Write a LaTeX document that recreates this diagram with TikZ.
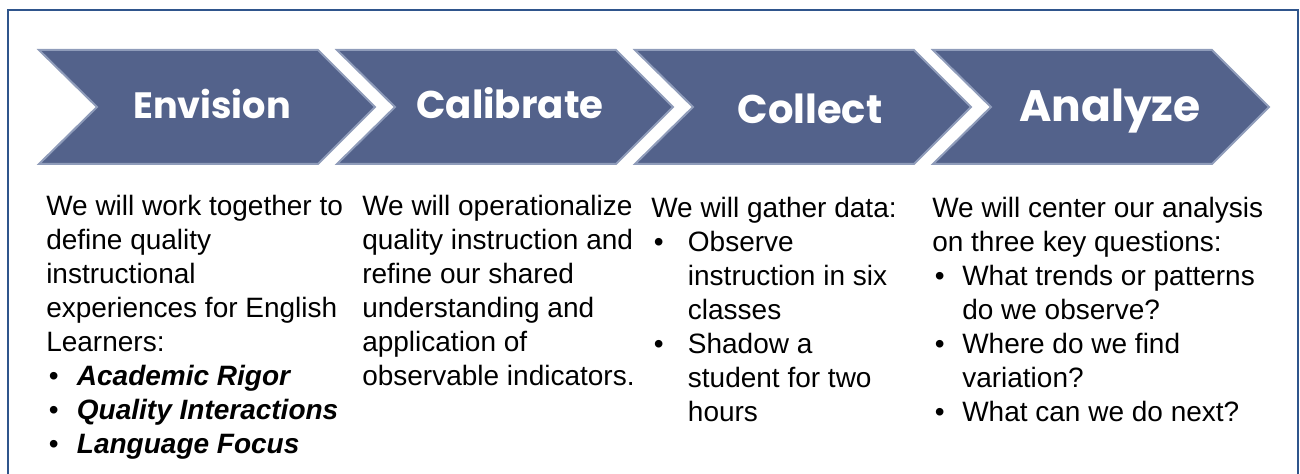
\documentclass[tikz,border=0pt]{standalone}
\usepackage{fontspec}
\setmainfont{Liberation Sans}
\newfontfamily\headfont{Poppins}
\definecolor{chevfill}{RGB}{83,98,139}
\definecolor{chevedge}{RGB}{143,156,186}
\definecolor{frameblue}{RGB}{47,85,140}
% bullet in a box of given width, and the matching indent
\newcommand{\bul}[1]{\makebox[#1][l]{\hspace{2pt}\textbullet}}
\newcommand{\ind}[1]{\hspace*{#1}}
\tikzset{
  chevron/.style={fill=chevfill,draw=chevedge,line width=1.5pt,line join=miter},
  head/.style={anchor=base,inner sep=0pt,text=white,font=\headfont\bfseries\fontsize{#1}{#1}\selectfont},
  % anchored at the baseline of the last line
  body/.style={anchor=base west,inner sep=0pt,align=left,font=\fontsize{21}{25.5}\selectfont},
}
\begin{document}
\begin{tikzpicture}[x=0.75pt,y=-0.75pt]
  \useasboundingbox (0,0) rectangle (1300,474);
  \clip (0,0) rectangle (1300,474);
  \draw[frameblue,line width=1.5pt] (8,10) rectangle (1298,490);
  % chevrons
  \draw[chevron] (39,50) -- (318,50) -- (375,107) -- (318,164) -- (39,164) -- (97,107) -- cycle;
  \draw[chevron] (337,50) -- (616,50) -- (673,107) -- (616,164) -- (337,164) -- (395,107) -- cycle;
  \draw[chevron] (635,50) -- (914,50) -- (971,107) -- (914,164) -- (635,164) -- (693,107) -- cycle;
  \draw[chevron] (933,50) -- (1212,50) -- (1269,107) -- (1212,164) -- (933,164) -- (991,107) -- cycle;
  \node[head=27.5] (envision) at (212,119) {Envision};
  \node[head=29] (calibrate) at (510,119) {Calibrate};
  \node[head=30] (collect) at (810,124) {Collect};
  \node[head=33] (analyze) at (1110,122) {Analyze};
  % texts
  \node[body] (envtext) at (46,453) {We will work together to\\
    define quality\\
    instructional\\
    experiences for English\\
    Learners:\\
    \bul{23pt}\textbf{\textit{Academic Rigor}}\\
    \bul{23pt}\textbf{\textit{Quality Interactions}}\\
    \bul{23pt}\textbf{\textit{Language Focus}}};
  \node[body] (caltext) at (362,385) {We will operationalize\\
    quality instruction and\\
    refine our shared\\
    understanding and\\
    application of\\
    observable indicators.};
  \node[body] (coltext) at (651,421) {We will gather data:\\
    \bul{27.5pt}Observe\\
    \ind{27.5pt}instruction in six\\
    \ind{27.5pt}classes\\
    \bul{27.5pt}Shadow a\\
    \ind{27.5pt}student for two\\
    \ind{27.5pt}hours};
  \node[body] (anatext) at (932,421) {We will center our analysis\\
    on three key questions:\\
    \bul{22.5pt}What trends or patterns\\
    \ind{22.5pt}do we observe?\\
    \bul{22.5pt}Where do we find\\
    \ind{22.5pt}variation?\\
    \bul{22.5pt}What can we do next?};
\end{tikzpicture}
\end{document}
